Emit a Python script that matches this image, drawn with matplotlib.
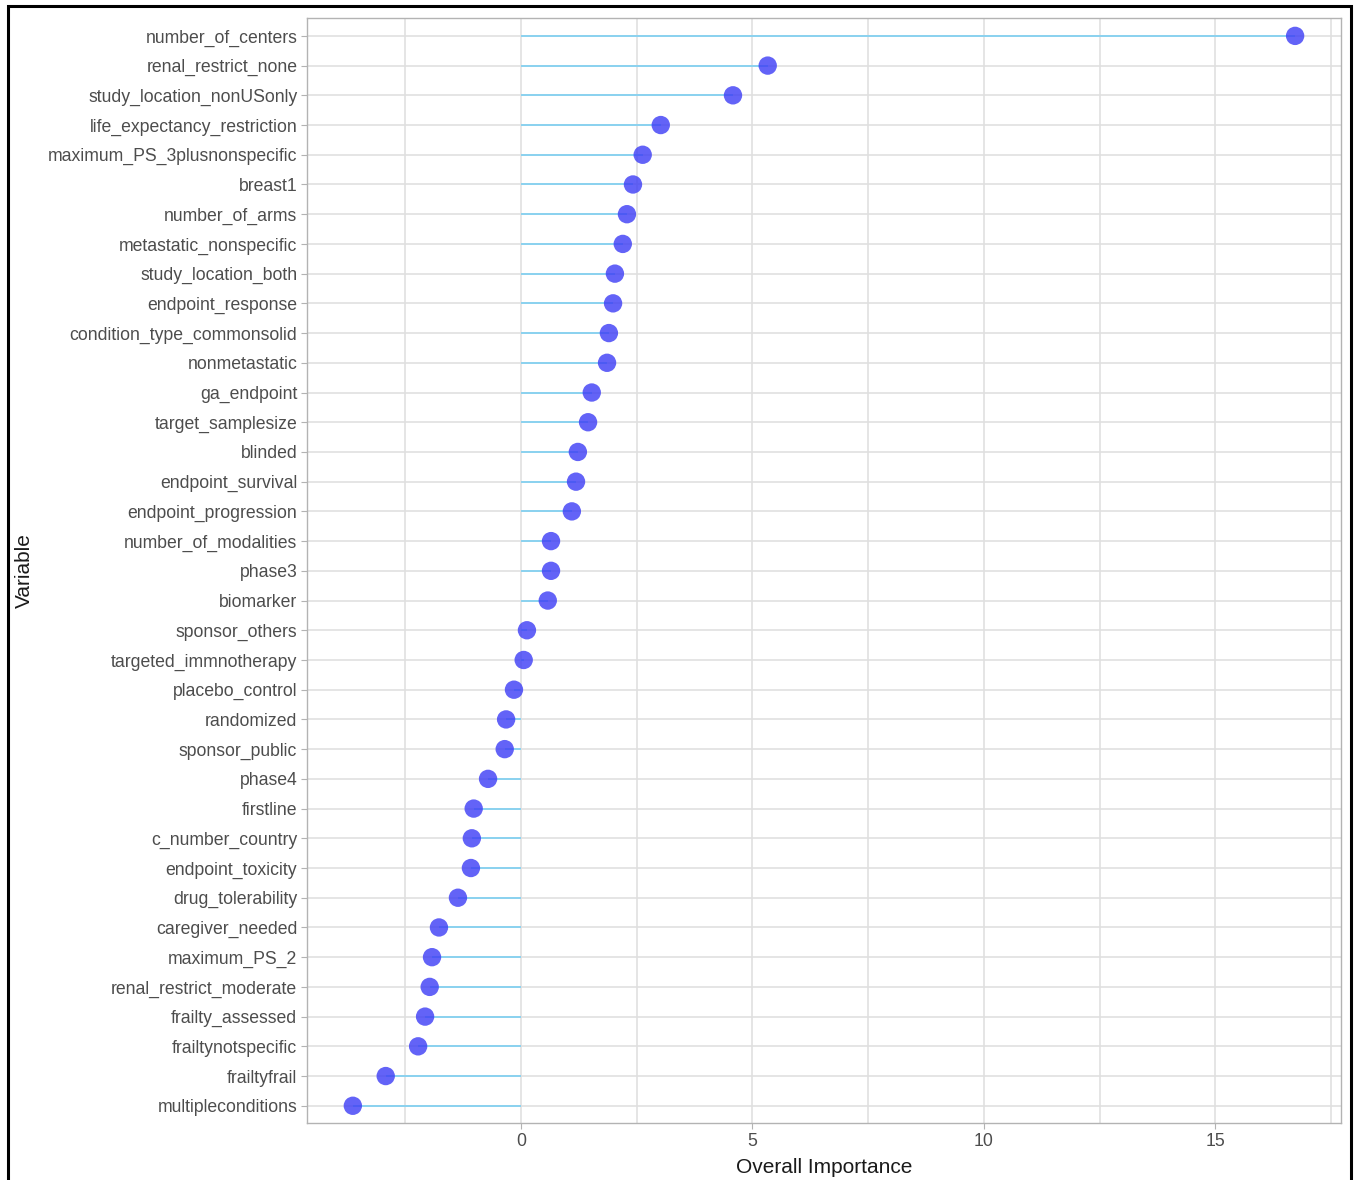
import numpy as np
import matplotlib
matplotlib.use("Agg")
import matplotlib.pyplot as plt
from matplotlib.patches import Rectangle

plt.rcParams['font.family'] = ['Liberation Sans', 'DejaVu Sans']

# variables from top to bottom, with importance
variables = [
    "number_of_centers", "renal_restrict_none", "study_location_nonUSonly",
    "life_expectancy_restriction", "maximum_PS_3plusnonspecific", "breast1",
    "number_of_arms", "metastatic_nonspecific", "study_location_both",
    "endpoint_response", "condition_type_commonsolid", "nonmetastatic",
    "ga_endpoint", "target_samplesize", "blinded", "endpoint_survival",
    "endpoint_progression", "number_of_modalities", "phase3", "biomarker",
    "sponsor_others", "targeted_immnotherapy", "placebo_control", "randomized",
    "sponsor_public", "phase4", "firstline", "c_number_country",
    "endpoint_toxicity", "drug_tolerability", "caregiver_needed",
    "maximum_PS_2", "renal_restrict_moderate", "frailty_assessed",
    "frailtynotspecific", "frailtyfrail", "multipleconditions",
]
importance = [
    16.72, 5.33, 4.58, 3.02, 2.63, 2.42, 2.29, 2.20, 2.03, 1.99, 1.90, 1.86,
    1.53, 1.45, 1.23, 1.19, 1.10, 0.65, 0.65, 0.58, 0.13, 0.06, -0.15, -0.32,
    -0.35, -0.71, -1.02, -1.06, -1.08, -1.36, -1.77, -1.92, -1.97, -2.07,
    -2.22, -2.92, -3.63,
]
xticks = [0, 5, 10, 15]
xminor = [-2.5, 2.5, 7.5, 12.5, 17.5]

fig = plt.figure(figsize=(13.56, 11.8), dpi=100)
ax = fig.add_axes([0.2264, 0.0483, 0.9889 - 0.2264, 0.9847 - 0.0483])

n = len(variables)
y = np.arange(n)[::-1]
vals = np.array(importance)

# grid first
for xv in xticks + xminor:
    ax.axvline(xv, color="#e0e0e0", lw=1.2, zorder=0)
for yv in y:
    ax.axhline(yv, color="#e0e0e0", lw=1.2, zorder=0)

ax.hlines(y, 0, vals, color="#8ad2f0", lw=1.4, zorder=2)
ax.scatter(vals, y, s=175, color="#3c3cf5", alpha=0.8, edgecolors="none", zorder=3)

ax.set_xlim(-4.62, 17.71)
ax.set_ylim(-0.58, n - 1 + 0.6)
ax.set_xticks(xticks)
ax.set_xticklabels([str(t) for t in xticks])
ax.set_yticks(y)
ax.set_yticklabels(variables)
ax.tick_params(axis="both", colors="#b3b3b3", length=4, width=0.8,
               labelsize=12.7, labelcolor="#4d4d4d", pad=3)
for sp in ax.spines.values():
    sp.set_color("#b3b3b3")
    sp.set_linewidth(1.0)

ax.set_xlabel("Overall Importance", fontsize=15, color="#1a1a1a", labelpad=6)
ax.set_ylabel("Variable", fontsize=15, color="#1a1a1a", labelpad=10)

# black frame around the figure
fig.add_artist(Rectangle((8 / 1356, -0.01), (1351 - 8) / 1356, 1 - 6 / 1180 + 0.01,
                         transform=fig.transFigure, fill=False,
                         edgecolor="black", lw=2.2))

fig.savefig("out.png", dpi=100)
